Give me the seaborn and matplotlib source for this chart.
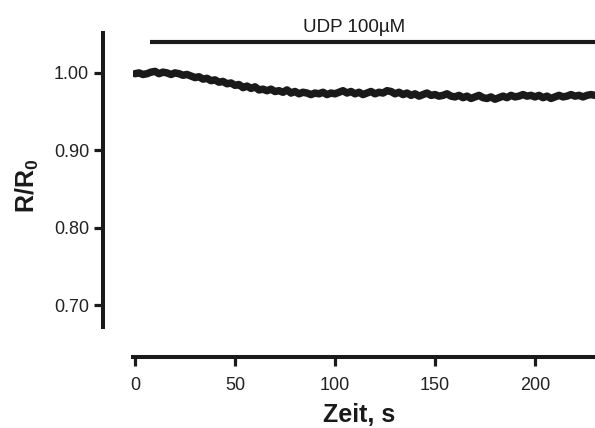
import numpy as np
import pandas as pd
import matplotlib
matplotlib.use("Agg")
import matplotlib.pyplot as plt
import seaborn as sns

# Ratio trace, sampled every 2 s
time_s = np.arange(0, 231, 2)
ratio = [
    0.999, 1.000, 0.998, 0.999, 1.001, 1.002, 0.999, 1.001, 1.000, 0.998,
    1.000, 0.999, 0.997, 0.998, 0.996, 0.994, 0.995, 0.992, 0.993, 0.990,
    0.991, 0.988, 0.989, 0.986, 0.987, 0.984, 0.985, 0.981, 0.983, 0.980,
    0.982, 0.978, 0.979, 0.977, 0.979, 0.976, 0.977, 0.975, 0.978, 0.974,
    0.976, 0.973, 0.975, 0.974, 0.972, 0.974, 0.973, 0.975, 0.972, 0.974,
    0.973, 0.975, 0.977, 0.974, 0.976, 0.973, 0.975, 0.972, 0.974, 0.976,
    0.973, 0.975, 0.974, 0.977, 0.976, 0.973, 0.975, 0.972, 0.974, 0.971,
    0.973, 0.970, 0.972, 0.974, 0.971, 0.972, 0.970, 0.971, 0.973, 0.970,
    0.969, 0.971, 0.968, 0.970, 0.967, 0.969, 0.971, 0.968, 0.967, 0.969,
    0.966, 0.968, 0.970, 0.968, 0.971, 0.969, 0.970, 0.972, 0.970, 0.971,
    0.969, 0.971, 0.968, 0.970, 0.967, 0.969, 0.971, 0.969, 0.970, 0.972,
    0.970, 0.971, 0.969, 0.971, 0.972, 0.971,
]

x_ticks = [0, 50, 100, 150, 200]
y_ticks = [0.70, 0.80, 0.90, 1.00]
y_tick_labels = ["0.70", "0.80", "0.90", "1.00"]

treatment_label = "UDP 100µM"
treatment_start = 7.5
treatment_level = 1.040

df = pd.DataFrame({"Zeit": time_s, "Ratio": ratio})

sns.set_theme(style="ticks")
plt.rcParams["font.family"] = ["Liberation Sans", "DejaVu Sans"]
plt.rcParams["mathtext.fontset"] = "custom"
plt.rcParams["mathtext.rm"] = "Liberation Sans:bold"
plt.rcParams["mathtext.bf"] = "Liberation Sans:bold"

ink = "#1a1a1a"

fig = plt.figure(figsize=(5.95, 4.28), dpi=100)
ax = fig.add_axes([133 / 595, 101 / 428, 462 / 595, 294 / 428])

sns.lineplot(data=df, x="Zeit", y="Ratio", color=ink, linewidth=5.4,
             ax=ax, legend=False)

ax.set_xlim(-1, 230)
ax.set_ylim(0.6716, 1.0516)

# Treatment bar and label
ax.plot([treatment_start, 240], [treatment_level, treatment_level],
        color=ink, linewidth=3.0, solid_capstyle="butt")
ax.text(109.5, 1.0585, treatment_label, ha="center", va="center",
        fontsize=13.5, color=ink)

ax.set_xticks(x_ticks)
ax.set_yticks(y_ticks)
ax.set_yticklabels(y_tick_labels)

for side in ["top", "right"]:
    ax.spines[side].set_visible(False)
ax.spines["left"].set_position(("outward", 21.6))
ax.spines["bottom"].set_position(("outward", 21.6))
for side in ["left", "bottom"]:
    ax.spines[side].set_linewidth(2.9)
    ax.spines[side].set_color(ink)

ax.tick_params(axis="both", width=2.3, length=6.5, color=ink,
               labelsize=13, labelcolor="#222222")
ax.tick_params(axis="x", pad=8)
ax.tick_params(axis="y", pad=3.5)

ax.set_xlabel("Zeit, s", fontsize=18, fontweight="bold", color=ink)
ax.set_ylabel(r"R/R$_0$", fontsize=18, fontweight="bold", color=ink)
ax.xaxis.set_label_coords(0.489, -0.26)
ax.yaxis.set_label_coords(-0.2, 0.48)

fig.savefig("out.png", dpi=100)
